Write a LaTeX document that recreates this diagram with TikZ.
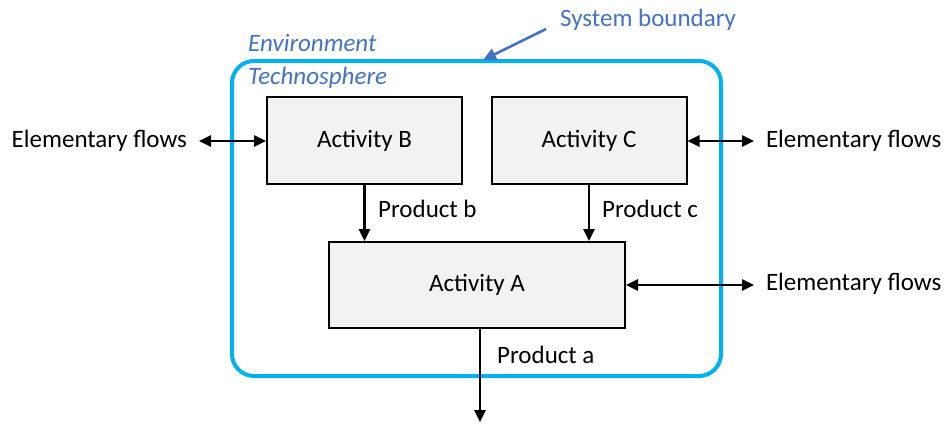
\documentclass[tikz,border=0pt]{standalone}
\usepackage{fontspec}
\setmainfont{Carlito}
\usepackage{xcolor}
\usetikzlibrary{arrows.meta}
\definecolor{boundcyan}{HTML}{00B0F0}
\definecolor{noteblue}{HTML}{4472C4}
\definecolor{boxgray}{HTML}{F2F2F2}

\tikzset{
  activity/.style={draw=black, line width=2pt, fill=boxgray, minimum width=195pt, minimum height=87pt, inner sep=0pt},
  flow/.style={<->, line width=2.6pt, >={Triangle[length=12pt,width=11pt]}},
  prod/.style={->, line width=2.6pt, >={Triangle[length=12pt,width=11pt]}},
  label/.style={inner sep=0pt, anchor=west},
  elem/.style={inner sep=0pt, outer xsep=12pt},
  note/.style={text=noteblue, inner sep=0pt, anchor=west, font=\fontsize{25}{30}\selectfont\itshape}
}

\begin{document}
\begin{tikzpicture}[x=1pt, y=-1pt, font=\fontsize{25}{30}\selectfont]
    \useasboundingbox (0,0) rectangle (944,423);
    % System boundary
    \draw[boundcyan, line width=4pt, rounded corners=22pt] (232,61) rectangle (721,376);
    \node[note] (env) at (248,43) {Environment};
    \node[note] (techno) at (248,78) {Technosphere};
    \node[note, font=\fontsize{25}{30}\selectfont] (sysb) at (560,20) {System boundary};
    \coordinate (tip) at (483,60);
    \draw[noteblue, line width=2.6pt, -{Triangle[length=13pt,width=12pt]}] ([xshift=-14pt,yshift=-9pt]sysb.west) -- (tip);

    % Activities
    \node[activity] (actB) at (364.5,140.5) {Activity B};
    \node[activity] (actC) at (589,140.5) {Activity C};
    \node[activity, minimum width=296pt, minimum height=86pt] (actA) at (477,285) {Activity A};

    % Products
    \draw[prod] (actB.south) -- (actB.south |- actA.north);
    \draw[prod] (actC.south) -- (actC.south |- actA.north);
    \node[label] (prodb) at (378,209) {Product b};
    \node[label] (prodc) at (602,209) {Product c};
    \coordinate (out) at (480,422);
    \draw[prod] (actA.south -| out) -- (out);
    \node[label] (proda) at (497,355) {Product a};

    % Elementary flows
    \node[elem, anchor=east] (flowB) at (199,141) {Elementary flows};
    \node[elem, anchor=west] (flowC) at (754,141) {Elementary flows};
    \node[elem, anchor=west] (flowA) at (754,284) {Elementary flows};
    \draw[flow] (flowB.east) -- (actB.west |- flowB.east);
    \draw[flow] (actC.east |- flowC.west) -- (flowC.west);
    \draw[flow] (actA.east) -- (actA.east -| flowA.west);
\end{tikzpicture}
\end{document}
